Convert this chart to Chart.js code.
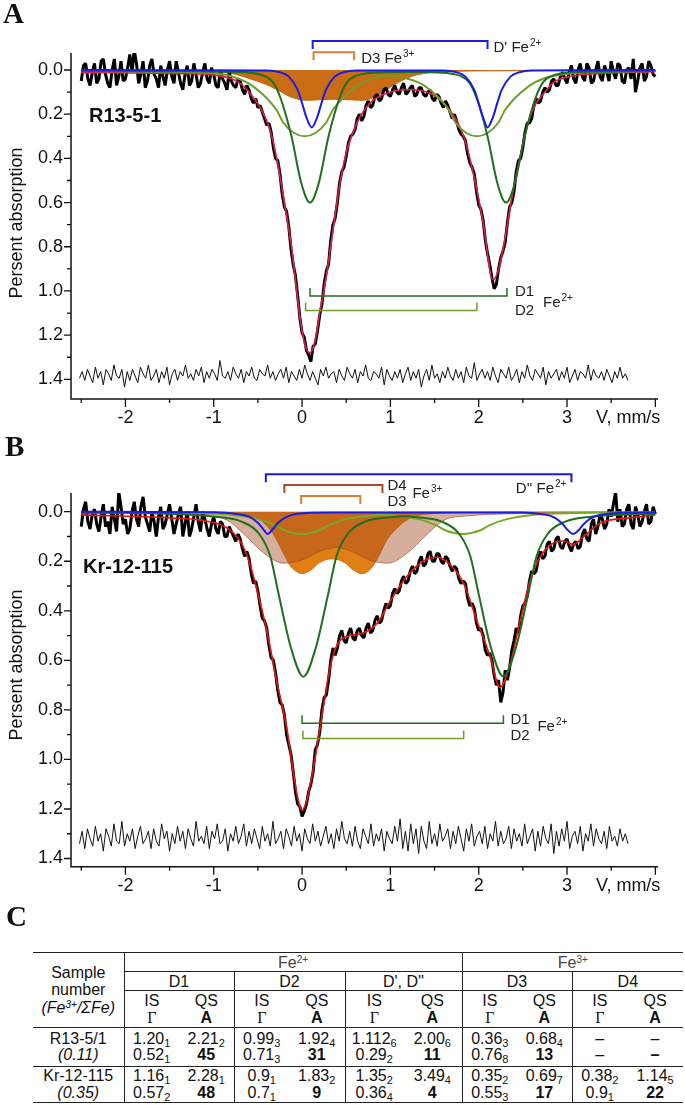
<!DOCTYPE html>
<html lang="en">
<head>
<meta charset="UTF-8">
<title>Mossbauer spectra R13-5-1 / Kr-12-115</title>
<script src="https://cdn.jsdelivr.net/npm/chart.js@4.4.1/dist/chart.umd.min.js"></script>
<style>
  body { margin: 0; background: #fff; }
  #page { position: relative; width: 685px; height: 1105px; overflow: hidden; font-family: "Liberation Sans", Arial, sans-serif; color: #111; }
  #page canvas { position: absolute; left: 0; }
  .letter { position: absolute; font-family: "Liberation Serif", "Times New Roman", serif; font-weight: bold; font-size: 29px; line-height: 1; }

  #params { position: absolute; left: 33px; top: 952px; width: 650px; border-collapse: collapse; table-layout: fixed;
            font-size: 16px; color: #111; border-top: 1px solid #222; border-bottom: 1px solid #222; }
  #params td { padding: 0; text-align: center; vertical-align: middle; line-height: 17px; white-space: nowrap; }
  #params .rb { border-right: 1px solid #222; }
  #params .bb { border-bottom: 1px solid #222; }
  #params tr.h1 td, #params tr.h2 td { height: 18px; }
  #params tr.h3 td { height: 36px; }
  #params tr.r1 td { height: 38px; }
  #params tr.r2 td { height: 35px; }
  #params td.dc { line-height: 16.5px; }
  #params td.samp { line-height: 17.5px; }
  #params .grp { color: #444; }
  #params sub { font-size: 11px; vertical-align: -3px; line-height: 0; }
  #params sup { font-size: 10px; vertical-align: 5px; line-height: 0; }
  #params .gam { font-family: "Liberation Serif", serif; }
</style>
</head>
<body>
<div id="page">
  <canvas id="chartA" width="685" height="440" style="top:0"></canvas>
  <canvas id="chartB" width="685" height="470" style="top:440px"></canvas>
  <div class="letter" style="left:3px; top:-1px">A</div>
  <div class="letter" style="left:5px; top:432px">B</div>
  <div class="letter" style="left:6px; top:902px">C</div>
  <table id="params"></table>
</div>

<script>
// ---------------- axes ----------------
const xMajor = [-2, -1, 0, 1, 2, 3, 4];
const xMinor = [-2.5, -1.5, -0.5, 0.5, 1.5, 2.5, 3.5];
const xLabelled = [-2, -1, 0, 1, 2, 3];
const yMajor = [0, 0.2, 0.4, 0.6, 0.8, 1.0, 1.2, 1.4];
const yMinor = [0.1, 0.3, 0.5, 0.7, 0.9, 1.1, 1.3];

// channel velocities (mm/s) of the measured spectra and of the residuals
const dataStart = -2.50, dataStep = 0.025, dataCount = 261;
const residStart = -2.52, residStep = 0.03, residCount = 218;

// ---------------- spectrum A : R13-5-1 ----------------
const absA = [
  0.05,-0.02,-0.03,0.04,0.07,0.01,-0.03,0.06,0.04,-0.04,
  -0.05,0.02,0.06,0.08,0.00,-0.05,0.07,0.03,-0.04,0.05,
  0.04,-0.01,-0.07,0.01,-0.09,-0.03,0.06,0.02,-0.04,0.08,
  0.05,-0.02,-0.05,0.02,0.04,0.08,-0.02,0.03,0.07,0.00,
  -0.04,0.03,0.06,-0.04,0.01,0.06,0.09,0.02,-0.02,0.07,
  0.05,-0.03,0.02,0.08,0.06,0.01,-0.03,0.04,0.06,-0.01,
  0.02,0.07,0.08,0.00,0.04,0.06,0.09,0.01,0.05,0.07,
  0.08,0.04,0.05,0.09,0.11,0.07,0.09,0.13,0.15,0.13,
  0.17,0.16,0.19,0.22,0.25,0.24,0.28,0.35,0.40,0.41,
  0.47,0.56,0.62,0.64,0.71,0.81,0.88,0.93,1.02,1.12,
  1.19,1.21,1.27,1.29,1.32,1.25,1.24,1.18,1.11,1.06,
  0.97,0.91,0.88,0.77,0.70,0.67,0.60,0.51,0.46,0.44,
  0.39,0.33,0.30,0.29,0.27,0.22,0.20,0.23,0.21,0.16,
  0.14,0.17,0.16,0.12,0.11,0.14,0.13,0.09,0.08,0.11,
  0.12,0.09,0.07,0.10,0.11,0.08,0.06,0.11,0.10,0.08,
  0.07,0.12,0.11,0.08,0.08,0.11,0.12,0.10,0.09,0.13,
  0.14,0.11,0.12,0.15,0.17,0.14,0.16,0.19,0.22,0.20,
  0.23,0.27,0.29,0.30,0.32,0.38,0.42,0.44,0.47,0.55,
  0.61,0.63,0.68,0.77,0.83,0.88,0.94,0.99,0.97,0.90,
  0.85,0.82,0.78,0.69,0.62,0.60,0.55,0.46,0.41,0.40,
  0.35,0.28,0.24,0.24,0.22,0.16,0.13,0.15,0.14,0.10,
  0.08,0.10,0.09,0.05,0.04,0.07,0.07,0.03,0.01,0.04,
  0.06,0.01,-0.02,0.04,0.06,0.00,-0.03,0.03,0.05,-0.03,
  -0.01,0.06,0.05,0.00,-0.04,0.03,0.05,-0.02,0.01,0.05,
  -0.04,0.01,0.04,-0.03,-0.02,0.05,0.06,0.00,-0.01,0.04,
  -0.05,0.10,0.05,-0.01,-0.03,0.05,0.03,-0.04,-0.02,0.02,
  0.03
];
const fitA = [[-2.5,0.012],[-1.5,0.015],[-1.0,0.022],[-0.8,0.04],[-0.7,0.06],[-0.6,0.1],[-0.48,0.166],[-0.4,0.23],
  [-0.33,0.32],[-0.25,0.48],[-0.18,0.65],[-0.12,0.8],[-0.03,1.1],[0.03,1.24],[0.09,1.28],[0.15,1.22],[0.2,1.1],
  [0.28,0.92],[0.355,0.71],[0.43,0.51],[0.51,0.36],[0.62,0.24],[0.77,0.15],[0.96,0.105],[1.19,0.088],[1.45,0.105],
  [1.64,0.166],[1.83,0.3],[1.94,0.47],[2.05,0.69],[2.16,0.95],[2.22,0.91],[2.28,0.8],[2.37,0.59],[2.47,0.39],
  [2.56,0.24],[2.65,0.15],[2.73,0.11],[2.85,0.055],[3.0,0.032],[3.2,0.02],[3.6,0.012],[4.0,0.008]];
const d1A = [[-2.5,0.004],[-1.2,0.006],[-0.71,0.009],[-0.51,0.017],[-0.41,0.03],[-0.33,0.055],[-0.25,0.12],[-0.12,0.3],
  [-0.01,0.51],[0.09,0.6],[0.19,0.51],[0.3,0.3],[0.43,0.12],[0.51,0.055],[0.59,0.03],[0.69,0.018],[0.89,0.011],
  [1.2,0.009],[1.51,0.011],[1.71,0.018],[1.81,0.03],[1.89,0.055],[1.97,0.12],[2.1,0.3],[2.21,0.51],[2.31,0.6],
  [2.41,0.51],[2.52,0.3],[2.65,0.12],[2.73,0.055],[2.81,0.03],[2.91,0.017],[3.11,0.009],[3.6,0.006],[4.0,0.004]];
const d2A = [[-2.5,0.004],[-1.5,0.008],[-1.0,0.015],[-0.75,0.035],[-0.55,0.075],[-0.29,0.18],[-0.21,0.24],[-0.09,0.285],
  [0.03,0.3],[0.15,0.285],[0.27,0.24],[0.35,0.18],[0.61,0.075],[0.8,0.038],[0.98,0.025],[1.18,0.038],[1.4,0.075],
  [1.66,0.18],[1.74,0.24],[1.86,0.285],[1.98,0.3],[2.1,0.285],[2.22,0.24],[2.3,0.18],[2.56,0.075],[2.76,0.035],
  [3.0,0.017],[3.5,0.008],[4.0,0.004]];
const dPrimeA = [[-2.5,0.0],[-0.4,0.002],[-0.25,0.01],[-0.15,0.03],[-0.05,0.09],[0.0,0.15],[0.05,0.215],[0.11,0.26],
  [0.17,0.215],[0.22,0.15],[0.27,0.09],[0.37,0.03],[0.47,0.01],[0.62,0.002],[1.6,0.002],[1.75,0.01],[1.85,0.03],
  [1.95,0.09],[2.0,0.15],[2.05,0.215],[2.1,0.26],[2.16,0.215],[2.21,0.15],[2.26,0.09],[2.36,0.03],[2.46,0.01],
  [2.6,0.002],[4.0,0.0]];
const d3A = [[-2.5,0.002],[-1.5,0.004],[-1.0,0.008],[-0.75,0.02],[-0.55,0.045],[-0.44,0.06],[-0.3,0.085],[-0.14,0.12],
  [0.05,0.137],[0.36,0.132],[0.69,0.137],[0.88,0.11],[1.07,0.06],[1.3,0.022],[1.6,0.008],[2.0,0.004],[4.0,0.001]];
const residOffsetA = 1.375;
const residA = [
  0.02,-0.01,0.03,-0.02,0.01,0.04,-0.03,0.02,-0.01,0.05,-0.02,0.00,0.03,-0.04,0.01,0.02,-0.02,0.06,-0.01,0.03,
  -0.02,0.01,0.04,-0.03,0.00,0.02,-0.04,0.03,0.01,-0.02,0.04,-0.01,0.02,-0.03,0.05,0.00,-0.02,0.03,-0.01,0.01,
  -0.04,0.02,0.00,0.03,-0.02,0.01,-0.03,0.04,-0.01,0.02,-0.02,0.00,0.03,-0.06,0.01,0.02,-0.01,0.03,-0.03,0.00,
  0.02,-0.02,0.04,-0.01,0.01,-0.03,0.02,0.03,-0.02,0.00,0.01,-0.04,0.02,-0.01,0.03,0.00,-0.02,0.02,-0.03,0.04,
  -0.01,0.01,0.03,-0.02,0.02,-0.04,0.00,0.03,-0.01,0.02,0.05,-0.02,0.01,-0.03,0.02,0.00,-0.01,0.04,-0.02,0.01,
  0.03,-0.03,0.00,0.02,-0.02,0.04,-0.01,0.01,-0.04,0.02,0.03,-0.01,0.00,0.02,-0.03,0.05,-0.02,0.01,0.03,-0.01,
  0.02,-0.02,0.04,0.00,-0.03,0.03,-0.01,0.02,-0.02,0.06,0.01,-0.02,0.03,-0.04,0.02,0.00,0.04,-0.01,0.02,-0.03,
  0.01,0.03,-0.02,0.02,-0.01,0.04,-0.03,0.01,0.02,-0.05,0.03,0.00,-0.02,0.02,-0.01,0.03,-0.03,0.01,0.04,-0.02,
  0.00,0.02,-0.03,0.03,0.01,-0.02,0.04,-0.01,0.02,-0.04,0.01,0.03,-0.02,0.00,0.02,-0.03,0.05,-0.01,0.02,0.00,
  -0.02,0.03,-0.01,0.02,-0.03,0.04,0.01,-0.02,0.03,-0.01,0.00,0.02,-0.04,0.03,-0.02,0.01,0.02,-0.01,0.03,-0.02,
  0.01,0.04,-0.01,0.02,-0.03,0.02,0.00,0.03
];
// doublet line positions marked by the brackets (mm/s)
const linesDPrimeA = [0.12, 2.10];
const linesD3A = [0.13, 0.59];
const linesD1A = [0.09, 2.32];
const linesD2A = [0.04, 1.98];

// ---------------- spectrum B : Kr-12-115 ----------------
const absB = [
  0.06,-0.01,-0.04,0.04,0.07,0.01,-0.01,0.05,0.08,0.02,
  -0.03,0.06,0.04,0.09,-0.02,0.03,0.08,-0.08,-0.02,0.05,
  0.03,0.09,0.07,0.00,-0.04,0.03,0.06,-0.02,-0.06,0.02,
  0.05,0.08,0.00,0.04,0.10,0.02,-0.02,0.07,0.05,0.01,
  -0.03,0.03,0.09,0.05,0.01,-0.02,0.10,0.05,0.00,0.10,
  0.07,0.02,-0.03,0.04,0.08,0.00,0.03,0.07,0.10,0.05,
  0.02,0.07,0.09,0.04,0.05,0.10,0.10,0.06,0.08,0.10,
  0.12,0.09,0.11,0.15,0.18,0.16,0.19,0.25,0.29,0.28,
  0.32,0.38,0.43,0.44,0.47,0.54,0.59,0.60,0.65,0.72,
  0.77,0.78,0.82,0.90,0.94,0.98,1.05,1.13,1.18,1.19,
  1.23,1.21,1.18,1.13,1.10,1.05,0.96,0.94,0.89,0.80,
  0.75,0.74,0.68,0.60,0.55,0.58,0.55,0.50,0.48,0.52,
  0.53,0.49,0.47,0.51,0.52,0.48,0.47,0.50,0.51,0.47,
  0.45,0.49,0.48,0.44,0.42,0.45,0.44,0.40,0.37,0.39,
  0.38,0.33,0.31,0.33,0.32,0.28,0.26,0.29,0.28,0.24,
  0.22,0.25,0.24,0.20,0.18,0.22,0.21,0.17,0.16,0.20,
  0.20,0.17,0.17,0.20,0.21,0.18,0.19,0.22,0.24,0.22,
  0.23,0.27,0.29,0.28,0.29,0.35,0.38,0.37,0.39,0.45,
  0.48,0.47,0.50,0.56,0.58,0.57,0.60,0.66,0.70,0.68,
  0.77,0.73,0.64,0.68,0.63,0.56,0.52,0.47,0.49,0.42,
  0.38,0.37,0.34,0.28,0.24,0.25,0.24,0.19,0.16,0.19,
  0.18,0.13,0.12,0.16,0.15,0.11,0.10,0.14,0.15,0.12,
  0.11,0.14,0.16,0.13,0.12,0.15,0.14,0.09,0.07,0.11,
  0.12,0.05,0.03,0.09,0.06,0.01,0.03,0.07,0.05,-0.01,
  0.02,-0.03,-0.08,0.04,-0.01,0.06,0.05,-0.01,-0.03,0.05,
  0.07,-0.02,0.01,0.06,0.04,0.00,-0.03,0.05,0.04,-0.02,
  0.01
];
const fitB = [[-2.5,0.013],[-1.5,0.025],[-1.15,0.034],[-0.85,0.065],[-0.7,0.12],[-0.6,0.2],[-0.5,0.33],[-0.4,0.48],
  [-0.29,0.68],[-0.17,0.88],[-0.1,1.05],[-0.04,1.17],[0.0,1.205],[0.05,1.17],[0.11,1.07],[0.2,0.88],[0.3,0.66],
  [0.36,0.57],[0.43,0.52],[0.55,0.5],[0.69,0.49],[0.85,0.45],[1.0,0.36],[1.19,0.26],[1.37,0.2],[1.53,0.184],
  [1.68,0.215],[1.83,0.29],[1.98,0.44],[2.13,0.585],[2.24,0.71],[2.36,0.61],[2.47,0.44],[2.58,0.28],[2.7,0.18],
  [2.85,0.125],[2.96,0.118],[3.07,0.132],[3.19,0.1],[3.37,0.047],[3.75,0.023],[4.0,0.013]];
const d1B = [[-2.5,0.004],[-1.5,0.008],[-0.985,0.02],[-0.685,0.04],[-0.485,0.09],[-0.36,0.18],[-0.265,0.333],
  [-0.125,0.55],[0.015,0.666],[0.155,0.55],[0.295,0.333],[0.39,0.18],[0.515,0.09],[0.715,0.04],[1.0,0.022],
  [1.15,0.018],[1.3,0.022],[1.58,0.04],[1.78,0.09],[1.905,0.18],[2.0,0.333],[2.14,0.55],[2.28,0.666],[2.42,0.55],
  [2.56,0.333],[2.655,0.18],[2.78,0.09],[2.98,0.04],[3.28,0.02],[4.0,0.008]];
const d2B = [[-2.5,0.003],[-1.3,0.005],[-0.8,0.012],[-0.5,0.03],[-0.3,0.055],[-0.2,0.075],[0.0,0.09],[0.2,0.075],
  [0.3,0.055],[0.5,0.03],[0.7,0.018],[0.91,0.013],[1.12,0.018],[1.32,0.03],[1.52,0.055],[1.62,0.075],[1.82,0.09],
  [2.02,0.075],[2.12,0.055],[2.32,0.03],[2.62,0.012],[3.1,0.005],[4.0,0.002]];
const dDoubleB = [[-2.5,0.0],[-1.0,0.002],[-0.72,0.01],[-0.6,0.02],[-0.5,0.045],[-0.44,0.07],[-0.39,0.09],[-0.33,0.07],
  [-0.27,0.045],[-0.17,0.02],[-0.05,0.008],[0.3,0.003],[2.5,0.003],[2.72,0.01],[2.85,0.022],[2.95,0.05],[3.01,0.075],
  [3.07,0.09],[3.13,0.075],[3.19,0.05],[3.29,0.022],[3.42,0.01],[3.7,0.004],[4.0,0.003]];
const d3B = [[-2.5,0.002],[-1.5,0.003],[-0.8,0.008],[-0.55,0.02],[-0.45,0.04],[-0.33,0.087],[-0.21,0.168],[-0.14,0.215],
  [-0.07,0.24],[0.0,0.25],[0.1,0.235],[0.2,0.205],[0.34,0.19],[0.48,0.205],[0.58,0.235],[0.68,0.25],[0.75,0.24],
  [0.81,0.215],[0.88,0.17],[0.96,0.114],[1.11,0.054],[1.22,0.027],[1.4,0.01],[2.0,0.003],[4.0,0.001]];
const d4B = [[-2.5,0.004],[-1.5,0.009],[-1.15,0.016],[-0.85,0.034],[-0.63,0.1],[-0.44,0.165],[-0.21,0.208],[0.0,0.195],
  [0.2,0.16],[0.38,0.145],[0.56,0.16],[0.76,0.195],[0.97,0.208],[1.2,0.165],[1.39,0.1],[1.61,0.034],[1.9,0.016],
  [2.3,0.009],[3.0,0.005],[4.0,0.003]];
const residOffsetB = 1.31;
const residB = [
  0.03,-0.02,0.05,-0.03,0.01,0.04,-0.04,0.02,-0.01,0.06,-0.03,0.00,0.04,-0.05,0.02,0.03,-0.06,0.04,-0.01,0.02,
  -0.03,0.05,0.00,-0.04,0.03,0.01,-0.02,0.05,-0.03,0.02,0.04,-0.05,0.01,-0.02,0.06,-0.01,0.03,-0.04,0.02,-0.02,
  0.05,-0.03,0.01,0.04,-0.06,0.02,0.00,0.03,-0.04,0.05,-0.02,0.01,-0.05,0.03,0.02,-0.03,0.06,-0.01,0.02,-0.04,
  0.03,0.00,-0.05,0.04,-0.02,0.03,-0.03,0.01,0.05,-0.04,0.02,-0.01,0.04,-0.06,0.03,0.01,-0.02,0.05,-0.03,0.00,
  0.04,-0.04,0.02,-0.01,0.06,-0.03,0.01,0.03,-0.05,0.02,-0.02,0.04,0.00,-0.04,0.03,-0.01,0.05,-0.03,0.02,-0.06,
  0.01,0.03,-0.02,0.04,-0.04,0.02,0.05,-0.03,0.00,0.03,-0.05,0.04,-0.01,0.02,-0.03,0.06,-0.02,0.01,0.03,-0.04,
  0.02,-0.07,0.05,-0.02,0.06,-0.05,0.03,-0.03,0.07,-0.04,0.02,0.05,-0.06,0.03,-0.01,0.04,-0.05,0.02,0.00,-0.03,
  0.05,-0.02,0.03,-0.04,0.01,0.06,-0.03,0.02,-0.05,0.04,0.00,-0.02,0.03,-0.04,0.05,-0.01,0.02,-0.06,0.04,-0.02,
  0.03,0.01,-0.04,0.05,-0.03,0.02,-0.01,0.04,-0.05,0.03,0.00,-0.03,0.06,-0.02,0.04,-0.04,0.01,0.03,-0.05,0.07,
  -0.02,0.04,-0.03,0.02,-0.06,0.05,0.00,-0.02,0.03,-0.04,0.06,-0.01,0.02,-0.05,0.04,-0.03,0.01,0.03,-0.02,0.05,
  -0.04,0.02,0.00,0.04,-0.03,0.02,-0.01,0.03
];
const linesDDoubleB = [-0.41, 3.05];
const linesD4B = [-0.20, 0.91];
const linesD3B = [-0.01, 0.66];
const linesD1B = [0.0, 2.28];
const linesD2B = [0.01, 1.83];

// ---------------- table C ----------------
const tableDoublets = ["D1", "D2", "D', D''", "D3", "D4"];
const tableSamples = ["R13-5/1", "Kr-12-115"];
const tableRatios = ["(0.11)", "(0.35)"];
const tableIS    = [["1.20_1", "0.99_3", "1.112_6", "0.36_3", "–"], ["1.16_1", "0.9_1", "1.35_2", "0.35_2", "0.38_2"]];
const tableQS    = [["2.21_2", "1.92_4", "2.00_6", "0.68_4", "–"], ["2.28_1", "1.83_2", "3.49_4", "0.69_7", "1.14_5"]];
const tableGamma = [["0.52_1", "0.71_3", "0.29_2", "0.76_8", "–"], ["0.57_2", "0.7_1", "0.36_4", "0.55_3", "0.9_1"]];
const tableArea  = [["45", "31", "11", "13", "–"], ["48", "9", "4", "17", "22"]];

// ---------------- helpers ----------------
function channels(start, step, n) {
  const v = [];
  for (let i = 0; i < n; i++) v.push(+(start + i * step).toFixed(3));
  return v;
}
const dataVel = channels(dataStart, dataStep, dataCount);
const residVel = channels(residStart, residStep, residCount);
const onChannels = (vel, ys, shift) => ys.map((y, i) => ({ x: vel[i], y: y + (shift || 0) }));
const pairs = arr => arr.map(p => ({ x: p[0], y: p[1] }));

const FONT = '"Liberation Sans", Arial, sans-serif';

function supText(ctx, base, sup, x, y, size, align) {
  ctx.font = size + 'px ' + FONT;
  const wb = ctx.measureText(base).width;
  ctx.font = Math.round(size * 0.68) + 'px ' + FONT;
  const ws = ctx.measureText(sup).width;
  const x0 = align === 'right' ? x - wb - 1 - ws : x;
  ctx.textAlign = 'left';
  ctx.textBaseline = 'alphabetic';
  ctx.font = size + 'px ' + FONT;
  ctx.fillText(base, x0, y);
  ctx.font = Math.round(size * 0.68) + 'px ' + FONT;
  ctx.fillText(sup, x0 + wb + 1, y - size * 0.42);
}

function decor(spec) {
  return {
    id: 'decor' + spec.id,
    afterDraw(chart) {
      const { ctx, chartArea: a, scales: { x, y } } = chart;
      const px = v => x.getPixelForValue(v);
      const py = v => y.getPixelForValue(v);
      ctx.save();

      // axis lines and ticks
      ctx.strokeStyle = '#111';
      ctx.lineWidth = 1.5;
      ctx.beginPath();
      ctx.moveTo(a.left, a.top);
      ctx.lineTo(a.left, a.bottom);
      ctx.lineTo(a.right, a.bottom);
      ctx.stroke();
      ctx.lineWidth = 1.3;
      ctx.beginPath();
      yMajor.forEach(v => { ctx.moveTo(a.left - 7, py(v)); ctx.lineTo(a.left, py(v)); });
      yMinor.forEach(v => { ctx.moveTo(a.left - 4, py(v)); ctx.lineTo(a.left, py(v)); });
      xMajor.forEach(v => { ctx.moveTo(px(v), a.bottom); ctx.lineTo(px(v), a.bottom + 8); });
      xMinor.forEach(v => { ctx.moveTo(px(v), a.bottom); ctx.lineTo(px(v), a.bottom + 4); });
      ctx.stroke();

      ctx.fillStyle = '#111';
      ctx.font = '18px ' + FONT;
      ctx.textAlign = 'right';
      ctx.textBaseline = 'middle';
      yMajor.forEach(v => ctx.fillText(v.toFixed(1), a.left - 8, py(v)));
      ctx.textAlign = 'center';
      ctx.textBaseline = 'alphabetic';
      xLabelled.forEach(v => ctx.fillText(String(v), px(v), a.bottom + 24));
      ctx.textAlign = 'left';
      ctx.fillText('V, mm/s', px(3) + 29, a.bottom + 24);

      ctx.save();
      ctx.translate(17, spec.titleY);
      ctx.rotate(-Math.PI / 2);
      ctx.textAlign = 'center';
      ctx.textBaseline = 'middle';
      ctx.fillText('Persent absorption', 0, 0);
      ctx.restore();

      // sample name
      ctx.font = 'bold 20px ' + FONT;
      ctx.textAlign = 'left';
      ctx.fillText(spec.sample, a.left + spec.sampleDx, a.top + spec.sampleDy);

      // doublet brackets
      const bracket = (lines, level, dir, color, lw) => {
        const y0 = py(level);
        ctx.strokeStyle = color;
        ctx.lineWidth = lw;
        ctx.beginPath();
        ctx.moveTo(px(lines[0]), y0 + dir * 8);
        ctx.lineTo(px(lines[0]), y0);
        ctx.lineTo(px(lines[1]), y0);
        ctx.lineTo(px(lines[1]), y0 + dir * 8);
        ctx.stroke();
      };
      ctx.fillStyle = '#222';
      spec.annotate(ctx, px, py, bracket);
      ctx.restore();
    }
  };
}

const lineDefaults = { pointRadius: 0, borderJoinStyle: 'round', cubicInterpolationMode: 'monotone', fill: false };

function makeChart(canvasId, pad, yRange, datasets, spec) {
  return new Chart(document.getElementById(canvasId), {
    type: 'line',
    data: { datasets: datasets.map(d => Object.assign({}, lineDefaults, d)) },
    options: {
      responsive: false,
      animation: false,
      devicePixelRatio: 1,
      layout: { padding: pad },
      plugins: { legend: { display: false }, tooltip: { enabled: false } },
      scales: {
        x: { type: 'linear', min: -2.616, max: 4.03, display: false },
        y: { type: 'linear', reverse: true, min: yRange[0], max: yRange[1], display: false }
      }
    },
    plugins: [decor(spec)]
  });
}

// ---------------- panel A ----------------
makeChart('chartA', { left: 71, right: 27, top: 53, bottom: 41 }, [-0.077, 1.489], [
  { label: 'D3', data: pairs(d3A), borderColor: '#c0640f', backgroundColor: '#c96c14', borderWidth: 1, fill: 'origin', order: 10 },
  { label: 'experiment', data: onChannels(dataVel, absA), borderColor: '#000', borderWidth: 3, cubicInterpolationMode: 'default', tension: 0, borderJoinStyle: 'bevel', order: 8 },
  { label: 'residual', data: onChannels(residVel, residA, residOffsetA), borderColor: '#111', borderWidth: 1, cubicInterpolationMode: 'default', tension: 0, order: 8 },
  { label: 'fit', data: pairs(fitA), borderColor: '#e31b4f', borderWidth: 1.6, order: 6 },
  { label: 'D2', data: pairs(d2A), borderColor: '#6f9e2b', borderWidth: 2, order: 5 },
  { label: 'D1', data: pairs(d1A), borderColor: '#1f6f1f', borderWidth: 2, order: 4 },
  { label: "D'", data: pairs(dPrimeA), borderColor: '#1b1be6', borderWidth: 2, order: 3 }
], {
  id: 'A', titleY: 223, sample: 'R13-5-1', sampleDx: 18, sampleDy: 69,
  annotate(ctx, px, py, bracket) {
    bracket(linesDPrimeA, -0.131, 1, '#1b1be6', 2);
    bracket(linesD3A, -0.08, 1, '#d4803a', 2);
    bracket(linesD1A, 1.023, -1, '#1f6f1f', 1.5);
    bracket(linesD2A, 1.089, -1, '#6f9e2b', 1.5);
    supText(ctx, "D' Fe", '2+', px(linesDPrimeA[1]) + 6, py(-0.131) + 11, 15);
    supText(ctx, 'D3 Fe', '3+', px(linesD3A[1]) + 7, py(-0.08) + 11, 15);
    const lx = px(linesD1A[1]) + 8;
    ctx.font = '15px ' + FONT;
    ctx.fillText('D1', lx, py(1.023));
    ctx.fillText('D2', lx, py(1.089) + 4);
    supText(ctx, 'Fe', '2+', lx + 28, py(1.023) + 11, 15);
  }
});

// ---------------- panel B ----------------
makeChart('chartB', { left: 71, right: 27, top: 53, bottom: 43.3 }, [-0.0755, 1.433], [
  { label: 'D3', data: pairs(d3B), borderColor: '#d0700f', backgroundColor: '#e27f14', borderWidth: 1, fill: 'origin', order: 11 },
  { label: 'D4', data: pairs(d4B), borderColor: 'rgba(150,70,40,0.6)', backgroundColor: 'rgba(165,75,35,0.45)', borderWidth: 1, fill: 'origin', order: 10 },
  { label: 'experiment', data: onChannels(dataVel, absB), borderColor: '#000', borderWidth: 3, cubicInterpolationMode: 'default', tension: 0, borderJoinStyle: 'bevel', order: 8 },
  { label: 'residual', data: onChannels(residVel, residB, residOffsetB), borderColor: '#111', borderWidth: 1, cubicInterpolationMode: 'default', tension: 0, order: 8 },
  { label: 'fit', data: pairs(fitB), borderColor: '#ee1111', borderWidth: 1.6, order: 6 },
  { label: 'D2', data: pairs(d2B), borderColor: '#79a823', borderWidth: 2, order: 5 },
  { label: 'D1', data: pairs(d1B), borderColor: '#1f6f1f', borderWidth: 2, order: 4 },
  { label: "D''", data: pairs(dDoubleB), borderColor: '#1b1be6', borderWidth: 2, order: 3 }
], {
  id: 'B', titleY: 225, sample: 'Kr-12-115', sampleDx: 12, sampleDy: 80,
  annotate(ctx, px, py, bracket) {
    bracket(linesDDoubleB, -0.151, 1, '#1b1be6', 2);
    bracket(linesD4B, -0.108, 1, '#a24a2c', 2);
    bracket(linesD3B, -0.063, 1, '#d4803a', 2);
    bracket(linesD1B, 0.854, -1, '#1f6f1f', 1.5);
    bracket(linesD2B, 0.915, -1, '#6f9e2b', 1.5);
    supText(ctx, "D'' Fe", '2+', px(linesDDoubleB[1]) - 5, py(-0.151) + 19, 15, 'right');
    const tx = px(linesD4B[1]) + 5;
    ctx.font = '15px ' + FONT;
    ctx.fillText('D4', tx, py(-0.108) + 5);
    ctx.fillText('D3', tx, py(-0.063) + 10);
    supText(ctx, 'Fe', '3+', tx + 25, py(-0.108) + 13, 15);
    const lx = px(linesD1B[1]) + 7;
    ctx.font = '15px ' + FONT;
    ctx.fillText('D1', lx, py(0.854) + 1);
    ctx.fillText('D2', lx, py(0.915) + 2);
    supText(ctx, 'Fe', '2+', lx + 27, py(0.854) + 8, 15);
  }
});

// ---------------- table ----------------
function cell(s) {
  const [v, e] = s.split('_');
  return e ? v + '<sub>' + e + '</sub>' : v;
}
(function buildTable() {
  const colWidths = [91, 55, 55, 55, 56, 58, 59, 55, 55, 55, 56];
  const last = tableDoublets.length - 1;
  let html = '<colgroup>' + colWidths.map(w => '<col style="width:' + w + 'px">').join('') + '</colgroup>';
  html += '<tr class="h1"><td rowspan="3" class="rb bb samp">Sample<br>number<br><i>(Fe<sup>3+</sup>/ΣFe)</i></td>' +
          '<td colspan="6" class="rb bb grp">Fe<sup>2+</sup></td><td colspan="4" class="bb grp">Fe<sup>3+</sup></td></tr>';
  html += '<tr class="h2">' + tableDoublets.map((d, i) =>
    '<td colspan="2" class="bb' + (i < last ? ' rb' : '') + '">' + d + '</td>').join('') + '</tr>';
  html += '<tr class="h3">' + tableDoublets.map((d, i) =>
    '<td class="bb">IS<br><span class="gam">Γ</span></td><td class="bb' + (i < last ? ' rb' : '') + '">QS<br><b>A</b></td>').join('') + '</tr>';
  tableSamples.forEach((s, r) => {
    const bb = r === 0 ? ' bb' : '';
    html += '<tr class="r' + (r + 1) + '"><td class="dc rb' + bb + '">' + s + '<br><i>' + tableRatios[r] + '</i></td>';
    tableDoublets.forEach((d, i) => {
      html += '<td class="dc' + bb + '">' + cell(tableIS[r][i]) + '<br>' + cell(tableGamma[r][i]) + '</td>';
      html += '<td class="dc' + bb + (i < last ? ' rb' : '') + '">' + cell(tableQS[r][i]) + '<br><b>' + cell(tableArea[r][i]) + '</b></td>';
    });
    html += '</tr>';
  });
  document.getElementById('params').innerHTML = html;
})();
</script>
</body>
</html>
